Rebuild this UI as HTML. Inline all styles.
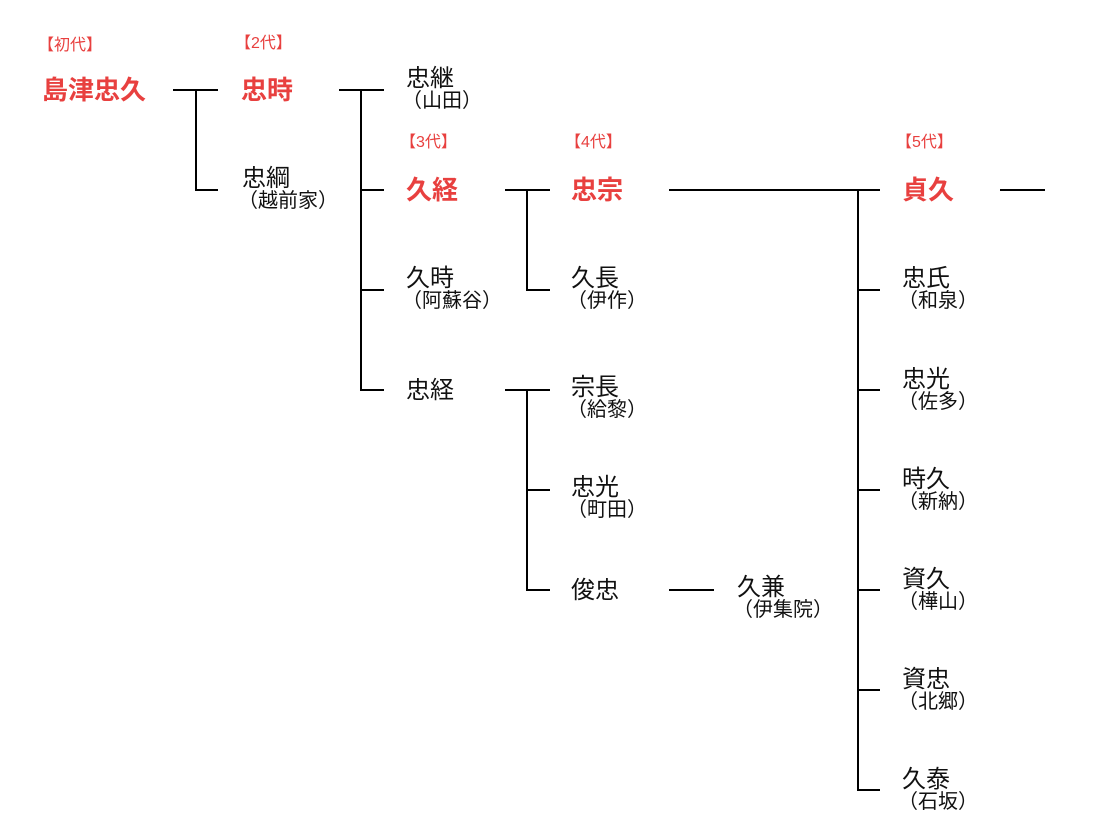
<!DOCTYPE html>
<html><head><meta charset="utf-8"><style>
html,body{margin:0;padding:0;background:#fff;width:1113px;height:833px;overflow:hidden;position:relative;font-family:"Liberation Sans","Noto Sans CJK JP",sans-serif;}
.l{position:absolute;background:#000;}
.t{position:absolute;white-space:nowrap;color:#111;}
.n{font-size:24px;line-height:25px;}
.p{font-size:20px;line-height:21px;}
.r{color:#e8403f;font-weight:bold;font-size:26px;line-height:27px;}
.g{color:#e8403f;font-size:16px;line-height:17px;}
</style></head><body>
<div class="l" style="left:173px;top:89px;width:45px;height:2px"></div>
<div class="l" style="left:195px;top:89px;width:2px;height:102px"></div>
<div class="l" style="left:195px;top:189px;width:23px;height:2px"></div>

<div class="l" style="left:339px;top:89px;width:45px;height:2px"></div>
<div class="l" style="left:360px;top:89px;width:2px;height:302px"></div>
<div class="l" style="left:360px;top:189px;width:24px;height:2px"></div>
<div class="l" style="left:360px;top:289px;width:24px;height:2px"></div>
<div class="l" style="left:360px;top:389px;width:24px;height:2px"></div>

<div class="l" style="left:505px;top:189px;width:45px;height:2px"></div>
<div class="l" style="left:526px;top:189px;width:2px;height:102px"></div>
<div class="l" style="left:526px;top:289px;width:24px;height:2px"></div>

<div class="l" style="left:505px;top:389px;width:45px;height:2px"></div>
<div class="l" style="left:526px;top:389px;width:2px;height:202px"></div>
<div class="l" style="left:526px;top:489px;width:24px;height:2px"></div>
<div class="l" style="left:526px;top:589px;width:24px;height:2px"></div>

<div class="l" style="left:669px;top:589px;width:45px;height:2px"></div>

<div class="l" style="left:669px;top:189px;width:211px;height:2px"></div>
<div class="l" style="left:857px;top:189px;width:2px;height:602px"></div>
<div class="l" style="left:857px;top:289px;width:23px;height:2px"></div>
<div class="l" style="left:857px;top:389px;width:23px;height:2px"></div>
<div class="l" style="left:857px;top:489px;width:23px;height:2px"></div>
<div class="l" style="left:857px;top:589px;width:23px;height:2px"></div>
<div class="l" style="left:857px;top:689px;width:23px;height:2px"></div>
<div class="l" style="left:857px;top:789px;width:23px;height:2px"></div>

<div class="l" style="left:1000px;top:189px;width:45px;height:2px"></div>

<div class="t g" style="left:38px;top:37px">【初代】</div>
<div class="t g" style="left:235px;top:35px">【2代】</div>
<div class="t g" style="left:400px;top:134px">【3代】</div>
<div class="t g" style="left:565px;top:134px">【4代】</div>
<div class="t g" style="left:896px;top:134px">【5代】</div>

<div class="t r" style="left:42px;top:77px">島津忠久</div>
<div class="t r" style="left:241px;top:77px">忠時</div>
<div class="t r" style="left:406px;top:177px">久経</div>
<div class="t r" style="left:571px;top:177px">忠宗</div>
<div class="t r" style="left:902px;top:177px">貞久</div>

<div class="t" style="left:406px;top:66px"><div class="n">忠継</div><div class="p" style="margin-left:-4px">（山田）</div></div>
<div class="t" style="left:242px;top:166px"><div class="n">忠綱</div><div class="p" style="margin-left:-4px">（越前家）</div></div>
<div class="t" style="left:406px;top:266px"><div class="n">久時</div><div class="p" style="margin-left:-4px">（阿蘇谷）</div></div>
<div class="t n" style="left:406px;top:378px">忠経</div>
<div class="t" style="left:571px;top:266px"><div class="n">久長</div><div class="p" style="margin-left:-4px">（伊作）</div></div>
<div class="t" style="left:571px;top:375px"><div class="n">宗長</div><div class="p" style="margin-left:-4px">（給黎）</div></div>
<div class="t" style="left:571px;top:475px"><div class="n">忠光</div><div class="p" style="margin-left:-4px">（町田）</div></div>
<div class="t n" style="left:571px;top:578px">俊忠</div>
<div class="t" style="left:737px;top:575px"><div class="n">久兼</div><div class="p" style="margin-left:-4px">（伊集院）</div></div>

<div class="t" style="left:902px;top:266px"><div class="n">忠氏</div><div class="p" style="margin-left:-4px">（和泉）</div></div>
<div class="t" style="left:902px;top:367px"><div class="n">忠光</div><div class="p" style="margin-left:-4px">（佐多）</div></div>
<div class="t" style="left:902px;top:467px"><div class="n">時久</div><div class="p" style="margin-left:-4px">（新納）</div></div>
<div class="t" style="left:902px;top:567px"><div class="n">資久</div><div class="p" style="margin-left:-4px">（樺山）</div></div>
<div class="t" style="left:902px;top:667px"><div class="n">資忠</div><div class="p" style="margin-left:-4px">（北郷）</div></div>
<div class="t" style="left:902px;top:767px"><div class="n">久泰</div><div class="p" style="margin-left:-4px">（石坂）</div></div>
</body></html>
